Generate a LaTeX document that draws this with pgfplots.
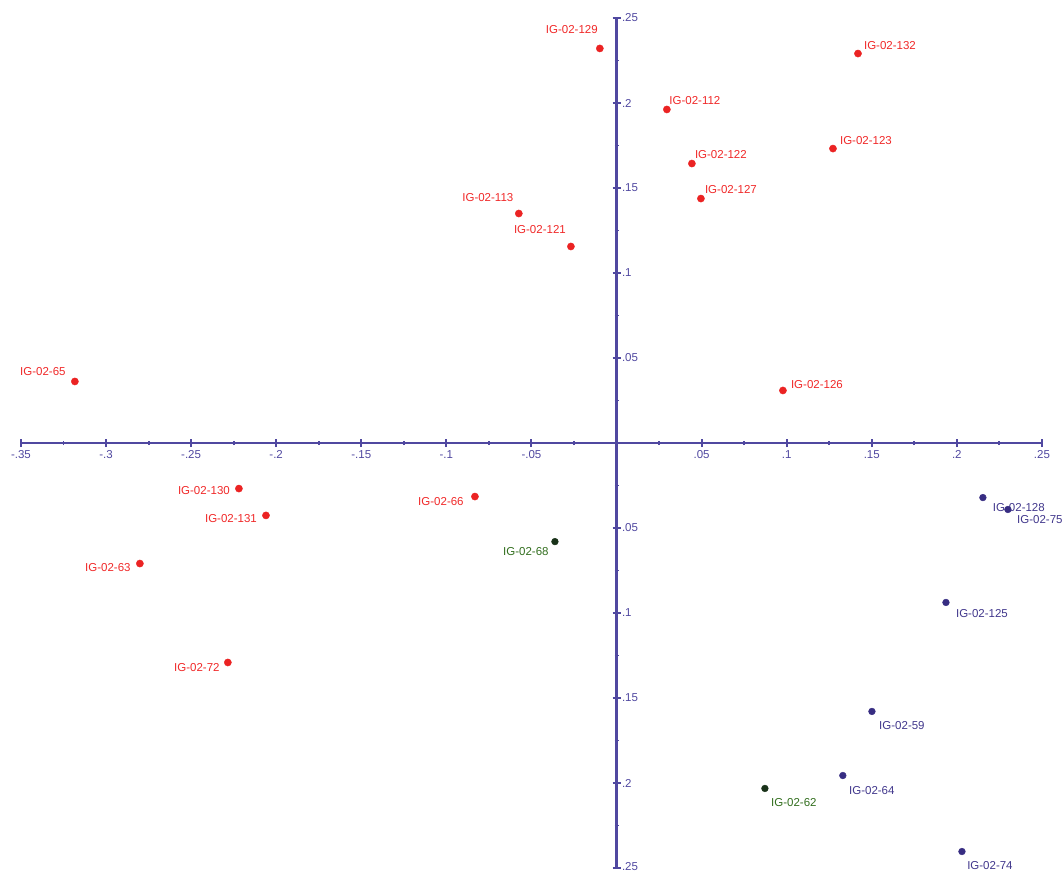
\documentclass[border=0pt]{standalone}
\usepackage{pgfplots}
\pgfplotsset{compat=1.18}
\usepackage{fontspec}
\setmainfont{Liberation Sans}

\definecolor{axcol}{RGB}{80,72,160}
\definecolor{redpt}{RGB}{235,35,35}
\definecolor{redlab}{RGB}{240,40,40}
\definecolor{bluept}{RGB}{55,45,130}
\definecolor{bluelab}{RGB}{65,55,140}
\definecolor{greenpt}{RGB}{25,50,25}
\definecolor{greenlab}{RGB}{50,110,30}

% x, y, label, label offset (pt) from the point
\pgfplotstableread{
x y label dx dy
-0.0098 0.2321 IG-02-129 -28 19
0.1419 0.2291 IG-02-132 32 8
0.0296 0.1962 IG-02-112 28 9
0.0443 0.1644 IG-02-122 29 9
0.1272 0.1732 IG-02-123 33 8
0.0496 0.1438 IG-02-127 30 9
-0.0574 0.1350 IG-02-113 -31 16
-0.0268 0.1156 IG-02-121 -31 17
-0.3183 0.0362 IG-02-65 -32 10
0.0978 0.0309 IG-02-126 34 6
-0.2219 -0.0268 IG-02-130 -35 -2
-0.2060 -0.0426 IG-02-131 -35 -3
-0.0832 -0.0315 IG-02-66 -34 -5
-0.2801 -0.0709 IG-02-63 -32 -4
-0.2284 -0.1291 IG-02-72 -31 -5
}\redtab
\pgfplotstableread{
x y label dx dy
0.2153 -0.0321 IG-02-128 36 -10
0.2300 -0.0391 IG-02-75 32 -10
0.1936 -0.0938 IG-02-125 36 -11
0.1501 -0.1579 IG-02-59 30 -14
0.1330 -0.1956 IG-02-64 29 -15
0.2030 -0.2403 IG-02-74 28 -14
}\bluetab
\pgfplotstableread{
x y label dx dy
-0.0362 -0.0580 IG-02-68 -29 -10
0.0872 -0.2032 IG-02-62 29 -14
}\greentab

\begin{document}
\begin{tikzpicture}
\begin{axis}[
  scale only axis,
  width=1021pt, height=850pt,
  xmin=-0.35, xmax=0.25, ymin=-0.25, ymax=0.25,
  axis lines*=middle,
  clip=false,
  axis line style={axcol, line width=2.2pt},
  every inner x axis line/.append style={axcol, line width=2.2pt},
  every inner y axis line/.append style={axcol, line width=2.2pt},
  xtick={-0.35,-0.3,-0.25,-0.2,-0.15,-0.1,-0.05,0.05,0.1,0.15,0.2,0.25},
  xticklabels={-.35,-.3,-.25,-.2,-.15,-.1,-.05,.05,.1,.15,.2,.25},
  ytick={-0.25,-0.2,-0.15,-0.1,-0.05,0.05,0.1,0.15,0.2,0.25},
  yticklabels={\raisebox{3pt}{.25},.2,.15,.1,.05,.05,.1,.15,.2,.25},
  minor xtick={-0.325,-0.275,-0.225,-0.175,-0.125,-0.075,-0.025,0.025,0.075,0.125,0.175,0.225},
  minor ytick={-0.225,-0.175,-0.125,-0.075,-0.025,0.025,0.075,0.125,0.175,0.225},
  tick align=center,
  major tick length=8pt,
  minor tick length=4pt,
  every tick/.style={axcol, line width=1.9pt},
  ticklabel style={text=axcol, font=\fontsize{11.5}{13}\selectfont},
  yticklabel style={anchor=west, xshift=6pt},
  nodes near coords,
  point meta=explicit symbolic,
  visualization depends on={\thisrow{dx}\as\dx},
  visualization depends on={\thisrow{dy}\as\dy},
  every node near coord/.append style={anchor=center, xshift=\dx pt, yshift=\dy pt,
    font=\fontsize{11.5}{13}\selectfont, inner sep=0pt},
]
\addplot[only marks, mark=*, mark size=3.6pt, redpt,
  every node near coord/.append style={text=redlab}]
  table[x=x, y=y, meta=label] {\redtab};
\addplot[only marks, mark=*, mark size=3.4pt, bluept,
  every node near coord/.append style={text=bluelab}]
  table[x=x, y=y, meta=label] {\bluetab};
\addplot[only marks, mark=*, mark size=3.4pt, greenpt,
  every node near coord/.append style={text=greenlab}]
  table[x=x, y=y, meta=label] {\greentab};
\coordinate (bl) at (axis cs:-0.3623,-0.2518);
\coordinate (tr) at (axis cs:0.2618,0.2606);
\end{axis}
\pgfresetboundingbox
\path (bl) rectangle (tr);
\end{tikzpicture}
\end{document}
